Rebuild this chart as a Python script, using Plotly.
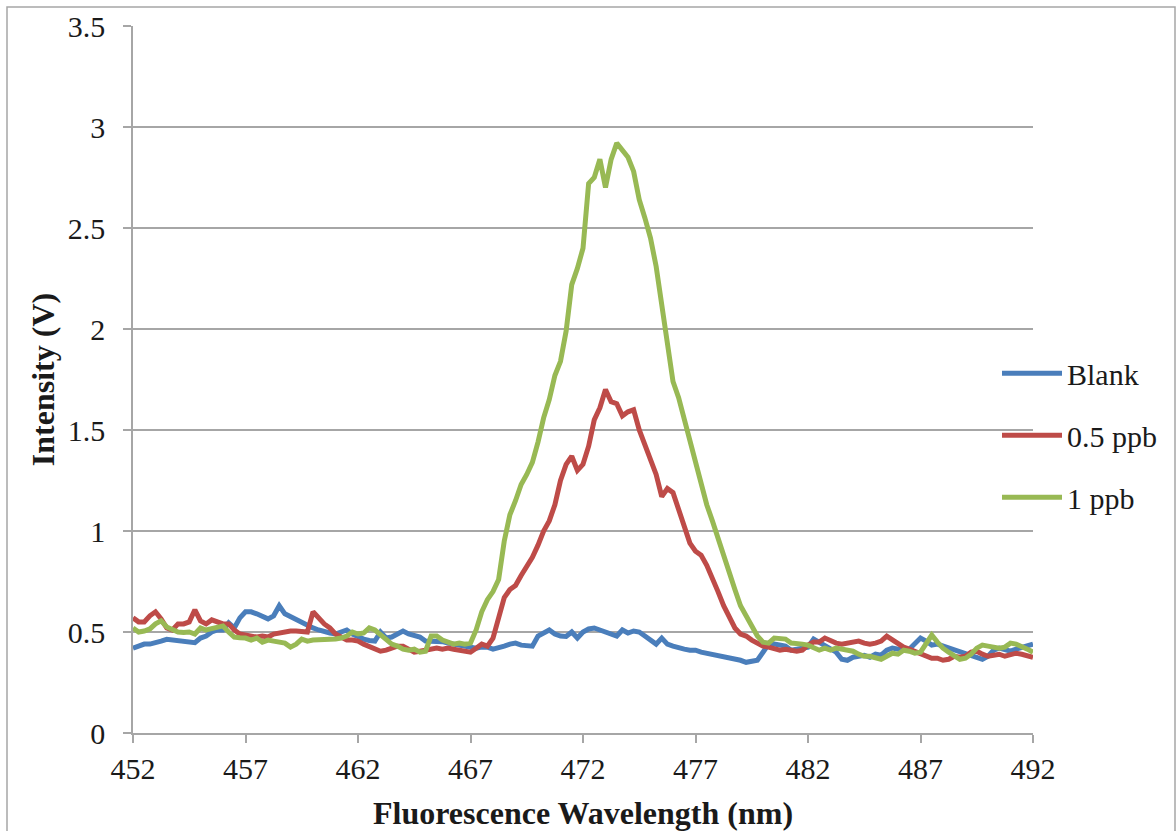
import numpy as np
import plotly.graph_objects as go

# Wavelength grid (nm), 452..492 in 0.25 nm steps
wavelength = [452 + 0.25 * i for i in range(161)]

blank = [
    0.42, 0.43, 0.44, 0.44, 0.445, 0.455, 0.464, 0.46,
    0.457, 0.452, 0.45, 0.447, 0.47, 0.48, 0.50, 0.51,
    0.51, 0.545, 0.52, 0.57, 0.60, 0.60, 0.59, 0.575,
    0.565, 0.58, 0.63, 0.59, 0.575, 0.565, 0.55, 0.535,
    0.52, 0.51, 0.50, 0.495, 0.49, 0.50, 0.51, 0.49,
    0.475, 0.465, 0.458, 0.455, 0.50, 0.47, 0.475, 0.49,
    0.505, 0.49, 0.485, 0.475, 0.455, 0.455, 0.45, 0.452,
    0.445, 0.44, 0.435, 0.425, 0.42, 0.42, 0.425, 0.425,
    0.415, 0.42, 0.43, 0.44, 0.445, 0.435, 0.435, 0.43,
    0.48, 0.495, 0.51, 0.49, 0.48, 0.478, 0.50, 0.47,
    0.50, 0.515, 0.52, 0.51, 0.50, 0.49, 0.48, 0.51,
    0.495, 0.505, 0.50, 0.48, 0.46, 0.44, 0.47, 0.44,
    0.43, 0.42, 0.415, 0.41, 0.41, 0.40, 0.395, 0.385,
    0.38, 0.375, 0.37, 0.365, 0.36, 0.35, 0.355, 0.36,
    0.40, 0.44, 0.44, 0.435, 0.43, 0.41, 0.415, 0.42,
    0.425, 0.465, 0.45, 0.43, 0.415, 0.40, 0.365, 0.36,
    0.375, 0.38, 0.385, 0.375, 0.39, 0.385, 0.41, 0.42,
    0.415, 0.41, 0.415, 0.44, 0.47, 0.455, 0.435, 0.44,
    0.43, 0.42, 0.41, 0.40, 0.39, 0.385, 0.375, 0.365,
    0.38, 0.41, 0.42, 0.415, 0.405, 0.415, 0.425, 0.43,
    0.44,
]

ppb_05 = [
    0.57, 0.55, 0.55, 0.58, 0.60, 0.565, 0.52, 0.51,
    0.54, 0.54, 0.55, 0.61, 0.555, 0.54, 0.56, 0.55,
    0.54, 0.54, 0.51, 0.49, 0.485, 0.48, 0.475, 0.48,
    0.475, 0.49, 0.495, 0.505, 0.505, 0.505, 0.505, 0.50,
    0.60, 0.57, 0.54, 0.52, 0.49, 0.475, 0.46, 0.46,
    0.455, 0.44, 0.43, 0.415, 0.405, 0.41, 0.42, 0.43,
    0.43, 0.415, 0.40, 0.405, 0.41, 0.42, 0.42, 0.415,
    0.42, 0.415, 0.41, 0.40, 0.40, 0.42, 0.44, 0.43,
    0.47, 0.57, 0.67, 0.71, 0.73, 0.78, 0.82, 0.87,
    0.93, 1.00, 1.05, 1.13, 1.25, 1.33, 1.37, 1.30,
    1.33, 1.42, 1.55, 1.61, 1.70, 1.64, 1.63, 1.57,
    1.59, 1.60, 1.50, 1.43, 1.35, 1.28, 1.17, 1.21,
    1.19, 1.10, 1.01, 0.94, 0.90, 0.88, 0.83, 0.77,
    0.70, 0.63, 0.57, 0.52, 0.49, 0.48, 0.46, 0.445,
    0.43, 0.425, 0.42, 0.41, 0.415, 0.41, 0.405, 0.41,
    0.435, 0.45, 0.45, 0.47, 0.455, 0.445, 0.44, 0.445,
    0.45, 0.455, 0.445, 0.44, 0.445, 0.455, 0.48, 0.46,
    0.44, 0.425, 0.415, 0.405, 0.395, 0.385, 0.37, 0.37,
    0.36, 0.365, 0.38, 0.375, 0.38, 0.40, 0.405, 0.39,
    0.38, 0.385, 0.39, 0.38, 0.385, 0.395, 0.39, 0.38,
    0.375,
]

ppb_1 = [
    0.52, 0.50, 0.505, 0.515, 0.54, 0.555, 0.525, 0.51,
    0.50, 0.497, 0.50, 0.49, 0.52, 0.51, 0.515, 0.525,
    0.53, 0.50, 0.475, 0.472, 0.47, 0.46, 0.47, 0.45,
    0.46, 0.455, 0.45, 0.445, 0.425, 0.44, 0.465, 0.455,
    0.46, 0.46, 0.465, 0.46, 0.465, 0.47, 0.48, 0.50,
    0.49, 0.495, 0.52, 0.51, 0.485, 0.46, 0.44, 0.43,
    0.415, 0.41, 0.415, 0.40, 0.405, 0.48, 0.48, 0.46,
    0.45, 0.44, 0.445, 0.44, 0.445, 0.51, 0.60, 0.66,
    0.70, 0.76, 0.95, 1.08, 1.15, 1.23, 1.28, 1.34,
    1.44, 1.56, 1.65, 1.77, 1.84, 1.99, 2.22, 2.30,
    2.40, 2.72, 2.75, 2.84, 2.70, 2.84, 2.92, 2.88,
    2.85, 2.78, 2.64, 2.55, 2.45, 2.31, 2.12, 1.95,
    1.74, 1.66, 1.55, 1.44, 1.35, 1.24, 1.13, 1.05,
    0.96, 0.88, 0.79, 0.71, 0.63, 0.58, 0.53, 0.48,
    0.45, 0.445, 0.47, 0.47, 0.465, 0.445, 0.445, 0.44,
    0.435, 0.425, 0.41, 0.42, 0.41, 0.42, 0.415, 0.41,
    0.405, 0.39, 0.38, 0.38, 0.37, 0.365, 0.38, 0.395,
    0.39, 0.41, 0.405, 0.395, 0.40, 0.44, 0.485, 0.45,
    0.42, 0.40, 0.38, 0.365, 0.37, 0.39, 0.42, 0.435,
    0.43, 0.425, 0.42, 0.425, 0.445, 0.44, 0.43, 0.415,
    0.40,
]

series_names = ["Blank", "0.5 ppb", "1 ppb"]
series_values = [blank, ppb_05, ppb_1]
series_colors = ["#4A7EBB", "#BE4B48", "#98B954"]

x_ticks = [452, 457, 462, 467, 472, 477, 482, 487, 492]

FONT = "Liberation Serif, Times New Roman, serif"
GRID = "#A6A6A6"
TXT = "#1a1a1a"

fig = go.Figure()
for name, vals, col in zip(series_names, series_values, series_colors):
    fig.add_trace(go.Scatter(
        x=wavelength, y=vals, mode="lines", name=name,
        legendgroup=name,
        line=dict(color=col, width=5),
    ))

fig.update_layout(
    width=1176, height=831,
    margin=dict(l=133, r=143, t=26, b=98, autoexpand=False),
    paper_bgcolor="white", plot_bgcolor="white",
    font=dict(family=FONT, size=30, color=TXT),
    showlegend=True,
    legend=dict(
        x=0.96, xanchor="left", y=0.421, yanchor="middle",
        font=dict(family=FONT, size=30, color=TXT),
        tracegroupgap=20, itemwidth=60,
        bgcolor="rgba(0,0,0,0)",
    ),
    xaxis=dict(
        range=[452, 492], tickvals=x_ticks,
        ticks="outside", ticklen=8, tickwidth=1.5, tickcolor=GRID,
        showline=True, linecolor=GRID, linewidth=1.5,
        showgrid=False, zeroline=False,
        tickfont=dict(family=FONT, size=30, color=TXT),
        title=dict(text="<b>Fluorescence Wavelength (nm)</b>",
                   font=dict(family=FONT, size=32, color=TXT),
                   standoff=20),
    ),
    yaxis=dict(
        range=[0, 3.5], dtick=0.5, tick0=0,
        ticks="outside", ticklen=8, tickwidth=1.5, tickcolor=GRID,
        showline=True, linecolor=GRID, linewidth=1.5,
        showgrid=True, gridcolor=GRID, gridwidth=1.5,
        zeroline=False, ticklabelstandoff=12,
        tickfont=dict(family=FONT, size=30, color=TXT),
        title=dict(text="<b>Intensity (V)</b>",
                   font=dict(family=FONT, size=32, color=TXT),
                   standoff=4),
    ),
    shapes=[dict(
        type="rect", xref="paper", yref="paper",
        x0=(7 - 133) / 900, x1=(1175 - 133) / 900,
        y0=(733 - 840) / 707, y1=(733 - 7) / 707,
        line=dict(color="#A6A6A6", width=1.5), fillcolor="rgba(0,0,0,0)",
        layer="below",
    )],
)

fig.write_html("out.html", config={"displayModeBar": False},
               post_script="document.body.style.margin='0';")
